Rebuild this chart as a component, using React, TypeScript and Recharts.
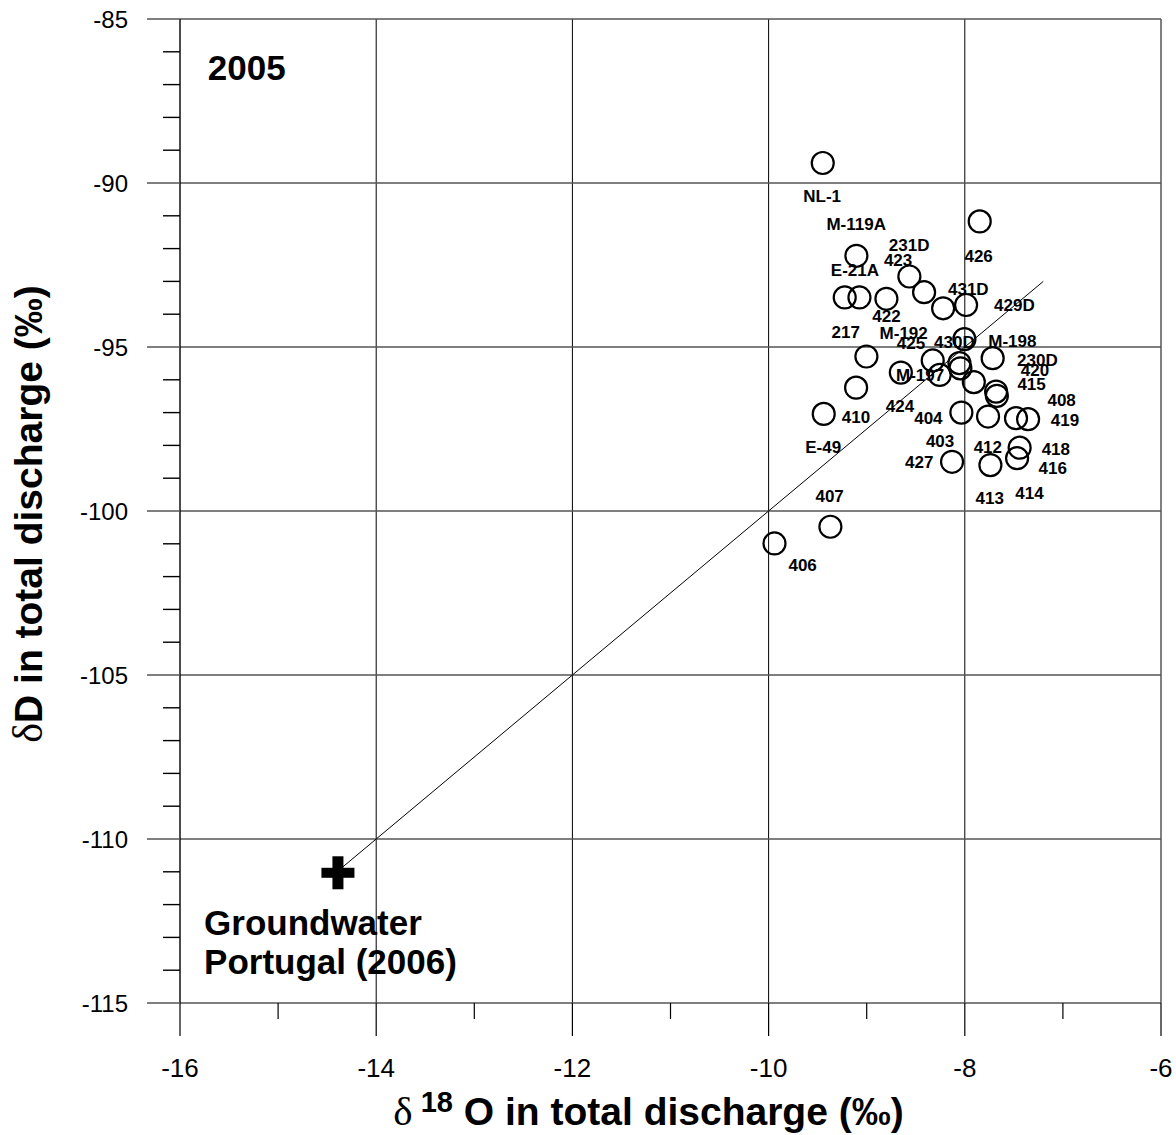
import { ScatterChart, Scatter, XAxis, YAxis, ReferenceLine } from 'recharts';

// circles: d18O (x) / dD (y) of total discharge, 2005
const wells = [
  { x: -9.448, y: -89.39 },
  { x: -7.848, y: -91.17 },
  { x: -9.105, y: -92.22 },
  { x: -8.565, y: -92.85 },
  { x: -9.224, y: -93.49 },
  { x: -9.074, y: -93.49 },
  { x: -8.799, y: -93.53 },
  { x: -8.415, y: -93.33 },
  { x: -8.221, y: -93.82 },
  { x: -7.987, y: -93.72 },
  { x: -8.004, y: -94.76 },
  { x: -9.003, y: -95.29 },
  { x: -7.716, y: -95.34 },
  { x: -8.327, y: -95.41 },
  { x: -8.652, y: -95.78 },
  { x: -8.256, y: -95.85 },
  { x: -8.055, y: -95.49 },
  { x: -8.045, y: -95.65 },
  { x: -7.908, y: -96.07 },
  { x: -7.681, y: -96.36 },
  { x: -7.673, y: -96.49 },
  { x: -9.438, y: -97.04 },
  { x: -9.108, y: -96.24 },
  { x: -8.035, y: -97.0 },
  { x: -7.763, y: -97.12 },
  { x: -7.478, y: -97.17 },
  { x: -7.355, y: -97.2 },
  { x: -7.441, y: -98.07 },
  { x: -7.467, y: -98.39 },
  { x: -8.13, y: -98.5 },
  { x: -7.739, y: -98.6 },
  { x: -9.37, y: -100.48 },
  { x: -9.94, y: -100.99 },
];

// where each well name sits on the plot (data units)
const wellLabels = [
  { name: 'NL-1', x: -9.454, y: -90.38 },
  { name: 'M-119A', x: -9.107, y: -91.26 },
  { name: '231D', x: -8.567, y: -91.9 },
  { name: '423', x: -8.68, y: -92.33 },
  { name: '426', x: -7.859, y: -92.21 },
  { name: 'E-21A', x: -9.12, y: -92.64 },
  { name: '431D', x: -7.964, y: -93.24 },
  { name: '429D', x: -7.495, y: -93.71 },
  { name: '422', x: -8.799, y: -94.04 },
  { name: '217', x: -9.214, y: -94.55 },
  { name: 'M-192', x: -8.623, y: -94.57 },
  { name: '425', x: -8.549, y: -94.87 },
  { name: '430D', x: -8.106, y: -94.84 },
  { name: 'M-198', x: -7.515, y: -94.81 },
  { name: '230D', x: -7.26, y: -95.38 },
  { name: '420', x: -7.284, y: -95.69 },
  { name: 'M-197', x: -8.456, y: -95.84 },
  { name: '415', x: -7.319, y: -96.12 },
  { name: '408', x: -7.013, y: -96.6 },
  { name: '419', x: -6.978, y: -97.21 },
  { name: '410', x: -9.11, y: -97.13 },
  { name: '424', x: -8.66, y: -96.8 },
  { name: '404', x: -8.371, y: -97.16 },
  { name: 'E-49', x: -9.444, y: -98.05 },
  { name: '403', x: -8.252, y: -97.87 },
  { name: '412', x: -7.765, y: -98.03 },
  { name: '418', x: -7.072, y: -98.1 },
  { name: '416', x: -7.103, y: -98.68 },
  { name: '427', x: -8.465, y: -98.5 },
  { name: '413', x: -7.746, y: -99.61 },
  { name: '414', x: -7.34, y: -99.45 },
  { name: '407', x: -9.378, y: -99.54 },
  { name: '406', x: -9.653, y: -101.64 },
];

const groundwater = [{ x: -14.39, y: -111.03 }];
const mixingLine = [
  { x: -14.4, y: -111.0 },
  { x: -7.2, y: -93.0 },
];

const yearNote = [{ text: '2005', x: -15.32, y: -86.47 }];
const sourceNote = [
  { text: 'Groundwater', x: -15.755, y: -112.93 },
  { text: 'Portugal (2006)', x: -15.755, y: -114.12 },
];

const xTicks = [-16, -15, -14, -13, -12, -11, -10, -9, -8, -7, -6];
const yTicks = [
  -115, -114, -113, -112, -111, -110, -109, -108, -107, -106, -105, -104, -103,
  -102, -101, -100, -99, -98, -97, -96, -95, -94, -93, -92, -91, -90, -89, -88,
  -87, -86, -85,
];
const xGrid = [-14, -12, -10, -8, -6];
const yGrid = [-110, -105, -100, -95, -90, -85];

const FONT = '"Liberation Sans", Arial, sans-serif';
const SERIF = '"Liberation Serif", "Times New Roman", serif';
const GRID = '#555';

const YTick = (props: any) => {
  const { x, y, payload } = props;
  const major = payload.value % 5 === 0;
  return (
    <g>
      <line x1={x - (major ? 33 : 17)} x2={x} y1={y} y2={y} stroke={major ? GRID : '#000'} strokeWidth={1.4} />
      {major && (
        <text x={x - 52} y={y} dy="0.36em" textAnchor="end" fontSize={24} fontFamily={FONT} fill="#000">
          {payload.value}
        </text>
      )}
    </g>
  );
};

const XTick = (props: any) => {
  const { x, y, payload } = props;
  const major = payload.value % 2 === 0;
  return (
    <g>
      <line x1={x} x2={x} y1={y} y2={y + (major ? 33 : 16)} stroke="#000" strokeWidth={1.2} />
      {major && (
        <text x={x} y={y + 65} dy="0.36em" textAnchor="middle" fontSize={26} fontFamily={FONT} fill="#000">
          {payload.value}
        </text>
      )}
    </g>
  );
};

const XTitle = (props: any) => {
  const vb = props.viewBox;
  const cx = vb.x + vb.width / 2 - 22;
  return (
    <text x={cx} y={vb.y + 122} textAnchor="middle" fontFamily={FONT} fontWeight="bold" fontSize={39} fill="#000">
      <tspan fontFamily={SERIF} fontWeight="normal" fontSize={41}>δ</tspan>
      <tspan fontSize={29} dy={-13}> 18</tspan>
      <tspan dy={13}> O in total discharge (‰)</tspan>
    </text>
  );
};

const YTitle = (props: any) => {
  const vb = props.viewBox;
  const cy = vb.y + vb.height / 2 + 3;
  return (
    <text
      x={42}
      y={cy}
      transform={`rotate(-90, 42, ${cy})`}
      textAnchor="middle"
      fontFamily={FONT}
      fontWeight="bold"
      fontSize={39}
      fill="#000"
    >
      <tspan fontFamily={SERIF} fontWeight="normal" fontSize={42}>δ</tspan>
      <tspan>D in total discharge (‰)</tspan>
    </text>
  );
};

const Ring = (props: any) => (
  <circle cx={props.cx} cy={props.cy} r={11} fill="none" stroke="#000" strokeWidth={2.2} />
);

const WellName = (props: any) => (
  <text x={props.cx} y={props.cy} dy="0.36em" textAnchor="middle" fontFamily={FONT} fontWeight="bold" fontSize={17} fill="#000">
    {props.payload.name}
  </text>
);

const Plus = (props: any) => (
  <g fill="#000">
    <rect x={props.cx - 16.5} y={props.cy - 5} width={33} height={10} />
    <rect x={props.cx - 5.5} y={props.cy - 16.5} width={11} height={33} />
  </g>
);

const YearText = (props: any) => (
  <text x={props.cx} y={props.cy} dy="0.36em" textAnchor="middle" fontFamily={FONT} fontWeight="bold" fontSize={35} fill="#000">
    {props.payload.text}
  </text>
);

const NoteText = (props: any) => (
  <text x={props.cx} y={props.cy} textAnchor="start" fontFamily={FONT} fontWeight="bold" fontSize={35} fill="#000">
    {props.payload.text}
  </text>
);

export default function App() {
  return (
    <div style={{ position: 'absolute', left: 0, top: 0, width: 1176, height: 1135, background: '#fff' }}>
      <ScatterChart width={1176} height={1135} margin={{ top: 19, right: 15, bottom: 0, left: 0 }}>
        <XAxis
          type="number"
          dataKey="x"
          domain={[-16, -6]}
          ticks={xTicks}
          interval={0}
          allowDataOverflow
          height={132}
          tickSize={0}
          tickMargin={0}
          tickLine={false}
          tick={XTick}
          axisLine={{ stroke: GRID, strokeWidth: 1.4 }}
          label={XTitle}
        />
        <YAxis
          type="number"
          dataKey="y"
          domain={[-115, -85]}
          ticks={yTicks}
          interval={0}
          allowDataOverflow
          width={180}
          tickSize={0}
          tickMargin={0}
          tickLine={false}
          tick={YTick}
          axisLine={{ stroke: '#000', strokeWidth: 1.4 }}
          label={YTitle}
        />
        {xGrid.map((v) => (
          <ReferenceLine key={'gx' + v} x={v} stroke="#000" strokeWidth={1} />
        ))}
        {yGrid.map((v) => (
          <ReferenceLine key={'gy' + v} y={v} stroke={GRID} strokeWidth={1.4} />
        ))}
        <ReferenceLine segment={mixingLine} stroke="#000" strokeWidth={1} />
        <Scatter data={wells} shape={Ring} isAnimationActive={false} />
        <Scatter data={wellLabels} shape={WellName} isAnimationActive={false} />
        <Scatter data={groundwater} shape={Plus} isAnimationActive={false} />
        <Scatter data={yearNote} shape={YearText} isAnimationActive={false} />
        <Scatter data={sourceNote} shape={NoteText} isAnimationActive={false} />
      </ScatterChart>
    </div>
  );
}
